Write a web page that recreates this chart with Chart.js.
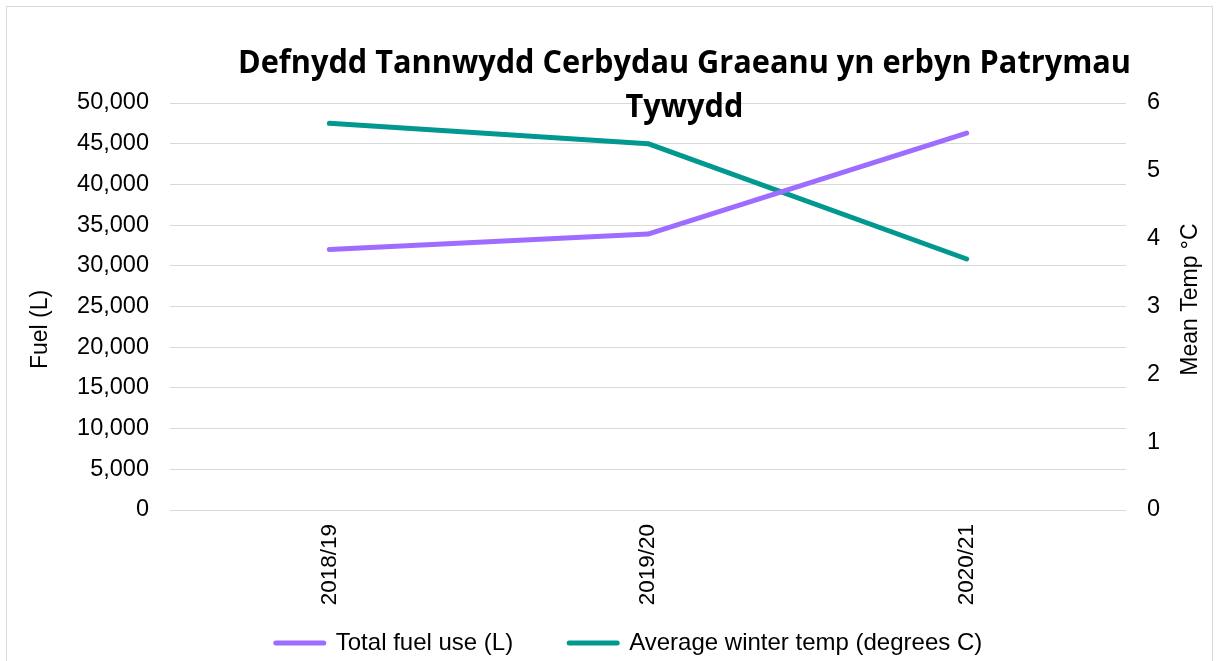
<!DOCTYPE html>
<html lang="cy">
<head>
<meta charset="UTF-8">
<title>Defnydd Tannwydd Cerbydau Graeanu yn erbyn Patrymau Tywydd</title>
<script src="https://cdn.jsdelivr.net/npm/chart.js"></script>
<style>
  html, body {
    margin: 0;
    padding: 0;
    background: #fff;
    overflow: hidden;
  }
  .cadre {
    position: absolute;
    left: 6px;
    top: 6px;
    width: 1207px;
    height: 670px;
    border: 1px solid #d9d9d9;
    box-sizing: border-box;
  }
  #graphique {
    position: absolute;
    left: 7px;
    top: 7px;
  }
  /* titre en HTML, posé par-dessus la zone de tracé comme dans Excel */
  .titre {
    position: absolute;
    left: 0;
    top: 39px;
    width: 1369px;
    text-align: center;
    font-family: "Open Sans", sans-serif;
    font-weight: 700;
    font-size: 32px;
    line-height: 44px;
    color: #000;
    white-space: nowrap;
    transform-origin: 684.5px 0;
  }
  .titre span { display: inline-block; }
</style>
</head>
<body>
<div class="cadre"></div>
<canvas id="graphique" width="1204" height="660"></canvas>
<div class="titre" id="titre">
  <span id="ligne1">Defnydd Tannwydd Cerbydau Graeanu yn erbyn Patrymau</span><br>
  <span>Tywydd</span>
</div>

<script>
// données
const annees = ['2018/19', '2019/20', '2020/21'];
const carburant = [32000, 33900, 46300];
const temperature = [5.7, 5.4, 3.7];
const ticksCarburant = { min: 0, max: 50000, pas: 5000 };
const ticksTemp = { min: 0, max: 6, pas: 1 };
const titreGauche = 'Fuel (L)';
const titreDroite = 'Mean Temp °C';

const police = "'Liberation Sans', Arial, sans-serif";
const violet = '#9E6DFF';
const sarcelle = '#00988F';

// resserre le titre (Calibri n'est pas dispo)
const l1 = document.getElementById('ligne1').getBoundingClientRect().width;
document.getElementById('titre').style.transform = 'scaleX(' + (893 / l1) + ')';

// les deux titres d'axes se lisent de bas en haut, chart.js tourne celui de droite dans l'autre sens
const titresAxes = {
  id: 'titresAxes',
  afterDraw(chart) {
    const ctx = chart.ctx;
    const a = chart.chartArea;
    const milieu = (a.top + a.bottom) / 2;
    ctx.save();
    ctx.fillStyle = '#000';
    ctx.font = '23px ' + police;
    ctx.textAlign = 'center';
    ctx.textBaseline = 'middle';
    [[titreGauche, 34, milieu + 23], [titreDroite, 1184, milieu - 7]].forEach(([t, x, y]) => {
      ctx.save();
      ctx.translate(x, y);
      ctx.rotate(-Math.PI / 2);
      ctx.fillText(t, 0, 0);
      ctx.restore();
    });
    ctx.restore();
  }
};

// l'axe x a besoin de hauteur pour ses étiquettes verticales : on remonte la légende ensuite
const remonteLegende = {
  id: 'remonteLegende',
  afterLayout(chart) {
    chart.legend.top -= 35;
    chart.legend.bottom -= 35;
  }
};

new Chart(document.getElementById('graphique'), {
  type: 'line',
  data: {
    labels: annees,
    datasets: [
      {
        label: 'Total fuel use (L)',
        data: carburant,
        yAxisID: 'y',
        borderColor: violet,
        backgroundColor: violet,
        borderWidth: 5,
        borderCapStyle: 'round',
        borderJoinStyle: 'round',
        pointRadius: 0,
        tension: 0
      },
      {
        label: 'Average winter temp (degrees C)',
        data: temperature,
        yAxisID: 'y1',
        borderColor: sarcelle,
        backgroundColor: sarcelle,
        borderWidth: 5,
        borderCapStyle: 'round',
        borderJoinStyle: 'round',
        pointRadius: 0,
        tension: 0
      }
    ]
  },
  options: {
    responsive: false,
    animation: false,
    layout: { padding: { left: 40, right: 0, top: 96, bottom: -33 } },
    plugins: {
      title: { display: false },
      tooltip: { enabled: false },
      legend: {
        position: 'bottom',
        labels: {
          boxWidth: 48,
          boxHeight: 0,
          padding: 56,
          color: '#000',
          font: { family: police, size: 24 }
        }
      }
    },
    scales: {
      x: {
        offset: true,
        grid: { display: false, drawTicks: false },
        border: { display: false },
        ticks: {
          minRotation: 90,
          maxRotation: 90,
          padding: 14,
          color: '#000',
          font: { family: police, size: 22.5 }
        },
        afterFit: s => { s.height = 100; }
      },
      y: {
        position: 'left',
        min: ticksCarburant.min,
        max: ticksCarburant.max,
        grid: { color: '#d9d9d9', lineWidth: 1, drawTicks: false },
        border: { display: false },
        ticks: {
          stepSize: ticksCarburant.pas,
          padding: 21,
          color: '#000',
          font: { family: police, size: 23.5 },
          callback: v => v.toLocaleString('en-US')
        },
        afterFit: s => { s.width = 123; }
      },
      y1: {
        position: 'right',
        min: ticksTemp.min,
        max: ticksTemp.max,
        grid: { display: false, drawTicks: false },
        border: { display: false },
        ticks: {
          stepSize: ticksTemp.pas,
          padding: 21,
          color: '#000',
          font: { family: police, size: 23.5 }
        },
        afterFit: s => { s.width = 85; }
      }
    }
  },
  plugins: [titresAxes, remonteLegende]
});
</script>
</body>
</html>
